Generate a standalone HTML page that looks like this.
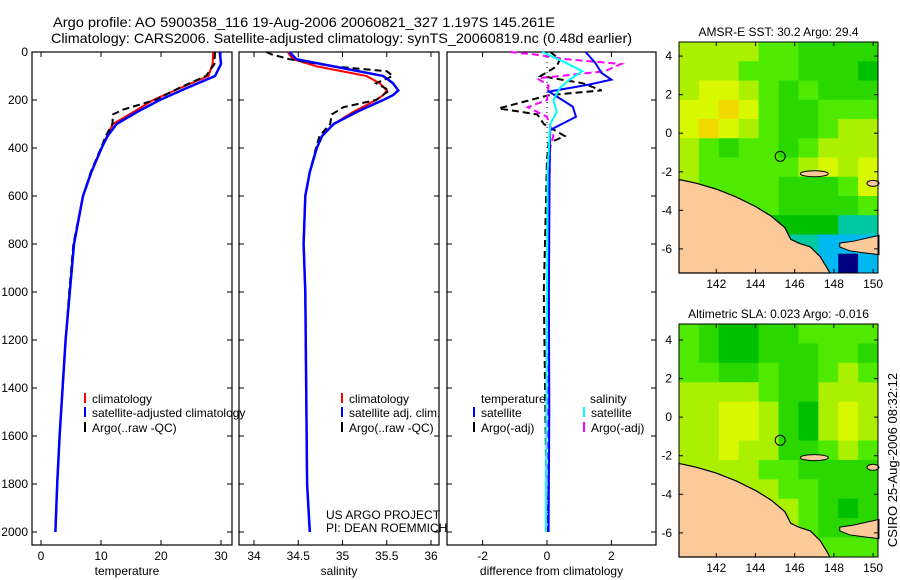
<!DOCTYPE html>
<html><head><meta charset="utf-8"><style>
body{margin:0;background:#fff;}
svg{display:block;font-family:"Liberation Sans",sans-serif;}
text{font-size:12px;fill:#000;}
</style></head><body>
<svg id="c" width="900" height="580" viewBox="0 0 900 580">
<text x="53" y="27" textLength="502" lengthAdjust="spacingAndGlyphs" style="font-size:14px">Argo profile: AO 5900358_116 19-Aug-2006 20060821_327 1.197S 145.261E</text>
<text x="51" y="43" textLength="581" lengthAdjust="spacingAndGlyphs" style="font-size:14px">Climatology: CARS2006. Satellite-adjusted climatology: synTS_20060819.nc (0.48d earlier)</text>
<text transform="translate(897,460) rotate(-90)" text-anchor="middle" style="font-size:13px">CSIRO 25-Aug-2006 08:32:12</text>
<text x="326" y="519">US ARGO PROJECT</text>
<text x="326" y="532">PI: DEAN ROEMMICH</text>
</svg>
<script>
// ---------- profile data ----------
const tDepth=[0,50,100,150,200,250,300,350,400,500,600,800,1000,1200,1400,1600,1800,2000];
const tempClim=[28.7,28.6,27.9,23.2,18.7,15.4,12.0,11.0,10.1,8.4,7.0,5.5,4.8,4.1,3.6,3.1,2.7,2.4];
const tempSat=[29.8,30.0,29.0,24.3,19.8,16.0,12.6,11.1,10.1,8.4,7.0,5.5,4.8,4.1,3.6,3.1,2.7,2.4];
const argoTDepth=[0,50,100,150,200,240,260,300,350,400,500,600,800,1000,1200,1400,1600,1800,2000];
const argoTemp=[29.0,28.9,27.5,23.0,19.0,13.7,12.0,11.9,10.8,10.0,8.3,7.0,5.4,4.7,4.1,3.6,3.1,2.7,2.4];

const sDepth=[0,30,60,100,130,160,180,200,250,300,350,400,500,600,800,1000,1400,1800,2000];
const salClim=[34.38,34.44,34.71,35.27,35.42,35.50,35.46,35.38,35.12,34.90,34.77,34.71,34.63,34.58,34.56,34.58,34.59,34.60,34.63];
const salSat=[34.40,34.48,34.90,35.46,35.57,35.63,35.57,35.46,35.16,34.90,34.77,34.71,34.63,34.58,34.56,34.58,34.59,34.60,34.63];
const argoSDepth=[0,10,30,60,80,100,130,160,200,230,260,300,350,400,500,600,800,1000,1400,1800,2000];
const argoSal=[34.14,34.20,34.40,34.90,35.50,35.57,35.38,35.53,35.38,35.01,34.88,34.86,34.74,34.70,34.63,34.58,34.56,34.58,34.59,34.60,34.63];

const dDepth=[0,46,88,115,136,165,228,270,304,325,500,1000,1500,2000];
const dTempSat=[1.2,1.5,1.7,2.0,1.3,0.06,0.8,0.9,0.4,0.1,0.08,0.06,0.07,0.05];
const dSalDepth=[0,46,80,115,150,200,250,300,500,1000,1500,2000];
const dSalSat=[-0.15,0.6,1.1,0.7,0.4,0.2,0.3,0.1,0.02,0.0,-0.02,-0.03];
const dArgoTDepth=[0,30,60,100,130,160,180,235,260,300,350,380,450,1000,2000];
const dArgoT=[0.1,0.4,0.3,-0.2,1.1,1.7,0.05,-1.5,-0.3,-0.1,0.55,0.05,0.0,-0.1,0.0];
const dArgoSDepth=[0,10,30,50,80,110,140,200,230,270,350,400,1000,2000];
const dArgoS=[-1.15,-0.4,0.6,2.3,1.8,-0.3,0.05,0.0,-0.6,0.0,0.2,0.1,0.0,0.05];

const depthTicks=[0,200,400,600,800,1000,1200,1400,1600,1800,2000];
const tempTicks=[0,10,20,30];
const salTicks=[34,34.5,35,35.5,36];
const diffTicks=[-2,0,2];

// ---------- map data (levels) ----------
const sstGrid=[
[6,6,6,6,5,5,4,4,4,4],[6,6,6,5,5,5,4,4,4,3],[6,7,7,6,5,4,5,4,4,4],[7,7,8,7,5,4,4,5,5,5],
[7,8,7,6,5,4,4,5,6,6],[6,5,4,5,5,4,5,6,6,6],[6,5,5,5,5,5,6,7,6,7],[6,5,5,5,5,4,4,4,5,7],
[6,6,6,5,5,4,4,4,4,5],[5,5,5,4,3,3,3,3,2,2],[4,4,3,3,2,2,2,1,1,1],[3,3,2,2,2,1,1,1,0,1]];
const slaGrid=[
[5,4,3,3,4,4,5,5,5,5],[5,4,3,3,4,4,4,5,5,4],[5,5,4,4,5,4,4,5,6,5],[6,6,6,6,5,4,4,6,6,6],
[6,6,7,7,6,4,3,6,7,6],[6,6,7,7,6,4,3,6,7,6],[6,6,7,6,6,4,4,5,6,5],[6,6,6,6,5,5,4,4,4,4],
[6,6,6,6,6,5,5,4,4,4],[6,6,6,6,6,6,5,4,3,4],[7,7,6,6,6,6,5,4,4,4],[7,7,7,7,6,6,6,5,5,5]];
const lonTicks=[142,144,146,148,150];
const latTicks=[4,2,0,-2,-4,-6];
const coastLon=[140.1,141,142,143,144,144.8,145.5,145.8,146.2,146.8,147.3,147.6,147.8,140.1];
const coastLat=[-2.4,-2.6,-2.9,-3.3,-3.8,-4.3,-4.9,-5.5,-5.7,-5.9,-6.4,-6.9,-7.25,-7.25];
const nbLon=[148.3,149,150.3,150.3,149.5,148.8,148.3];
const nbLat=[-5.7,-5.6,-5.3,-6.3,-6.2,-6.1,-5.9];
const argoLon=145.26, argoLat=-1.2;
</script>
<script>
const NS='http://www.w3.org/2000/svg';
const svg=document.getElementById('c');
function mk(tag,attrs,parent){const e=document.createElementNS(NS,tag);for(const k in attrs)e.setAttribute(k,attrs[k]);(parent||svg).appendChild(e);return e;}
const yD=d=>52+d*0.24;
const panels=[
 {x0:32,x1:232,sx:v=>41+v*6,ticks:tempTicks,label:'temperature',name:'temperature-panel'},
 {x0:239,x1:439,sx:v=>254+(v-34)*88.5,ticks:salTicks,label:'salinity',name:'salinity-panel'},
 {x0:447,x1:656,sx:v=>547+v*32.2,ticks:diffTicks,label:'difference from climatology',name:'difference-panel'}];
panels.forEach((p,i)=>{
 const g=mk('g',{});
 
 
 const r=mk('rect',{x:p.x0,y:52,width:p.x1-p.x0,height:493,fill:'none',stroke:'#000','stroke-width':1.2},g);
 
 
 p.ticks.forEach(v=>{const x=p.sx(v);
  mk('line',{x1:x,x2:x,y1:52,y2:57,stroke:'#000'},g);mk('line',{x1:x,x2:x,y1:545,y2:540,stroke:'#000'},g);
  const t=mk('text',{x:x,y:560,'text-anchor':'middle'},g);t.textContent=v;
  
  });
 depthTicks.forEach(d=>{const y=yD(d);
  mk('line',{x1:p.x0,x2:p.x0+5,y1:y,y2:y,stroke:'#000'},g);mk('line',{x1:p.x1,x2:p.x1-5,y1:y,y2:y,stroke:'#000'},g);
  if(i===0){const t=mk('text',{x:28,y:y+4,'text-anchor':'end'},g);t.textContent=d;
   
   }});
 const xl=mk('text',{x:(p.x0+p.x1)/2+(i==0?-5:0),y:575,'text-anchor':'middle'},g);xl.textContent=p.label;
 
 
});
function line(depths,vals,sx,color,dash,name,w){
 const pts=depths.map((d,i)=>sx(vals[i]).toFixed(1)+','+yD(d).toFixed(1)).join(' ');
 const e=mk('polyline',{points:pts,fill:'none',stroke:color,'stroke-width':w||2,'stroke-dasharray':dash||'none'});
 
 
}
const [P1,P2,P3]=panels;
line(tDepth,tempClim,P1.sx,'#f00',null,'temp-climatology-line');
line(argoTDepth,argoTemp,P1.sx,'#000','7,4','temp-argo-line');
line(tDepth,tempSat,P1.sx,'#00f',null,'temp-satellite-line',2.5);
line(sDepth,salClim,P2.sx,'#f00',null,'sal-climatology-line');
line(argoSDepth,argoSal,P2.sx,'#000','7,4','sal-argo-line');
line(sDepth,salSat,P2.sx,'#00f',null,'sal-satellite-line',2.5);
const zl=mk('line',{x1:P3.sx(0),x2:P3.sx(0),y1:yD(0),y2:yD(2000),stroke:'#000','stroke-dasharray':'1,4'});


line(dArgoTDepth,dArgoT,P3.sx,'#000','7,4','diff-argo-temp-line');
line(dArgoSDepth,dArgoS,P3.sx,'#f0f','7,4','diff-argo-sal-line');
line(dDepth,dTempSat,P3.sx,'#00f',null,'diff-temp-satellite-line');
line(dSalDepth,dSalSat,P3.sx,'#0ff',null,'diff-sal-satellite-line');
// legends
function leg(x,y,color,label){const g=mk('g',{});
 
 
 if(color)mk('line',{x1:x,x2:x,y1:y-10,y2:y,stroke:color,'stroke-width':2},g);
 const t=mk('text',{x:x+(color?7:0),y:y},g);t.textContent=label;}
leg(85,403,'#f00','climatology');leg(85,417,'#00f','satellite-adjusted climatology');leg(85,432,'#000','Argo(..raw -QC)');
leg(342,403,'#f00','climatology');leg(342,417,'#00f','satellite adj. clim.');leg(342,432,'#000','Argo(..raw -QC)');
leg(481,403,null,'temperature');leg(474,417,'#00f','satellite');leg(474,432,'#000','Argo(-adj)');
leg(590,403,null,'salinity');leg(584,417,'#0ff','satellite');leg(584,432,'#f0f','Argo(-adj)');
// maps
const pal=['#000080','#00b8f0','#00c8a0','#00c000','#2ad800','#50ea00','#aaf000','#d8f800','#f0d800'];
function map(top,bot,latTop,grid,title,name){
 const x0=679,x1=878,lon0=140.1,lon1=150.25,latBot=-7.25;
 const mx=l=>x0+(l-lon0)/(lon1-lon0)*(x1-x0), my=l=>top+(latTop-l)/(latTop-latBot)*(bot-top);
 const g=mk('g',{});
 
 
 const rows=grid.length,cols=grid[0].length,cw=(x1-x0)/cols,ch=(bot-top)/rows;
 grid.forEach((row,r)=>row.forEach((v,c)=>{const e=mk('rect',{x:x0+c*cw,y:top+r*ch,width:cw+0.5,height:ch+0.5,fill:pal[v]},g);
  
  }));
 const land=mk('polygon',{points:coastLon.map((l,i)=>mx(l)+','+my(coastLat[i])).join(' '),fill:'#fcc998',stroke:'#000','stroke-width':1.2},g);
 
 
 const nb=mk('polygon',{points:nbLon.map((l,i)=>mx(l)+','+my(nbLat[i])).join(' '),fill:'#fcc998',stroke:'#000'},g);
 
 
 mk('ellipse',{cx:mx(147),cy:my(-2.1),rx:14,ry:3,fill:'#fcc998',stroke:'#000'},g);
 mk('ellipse',{cx:x1-5,cy:my(-2.6),rx:6,ry:3,fill:'#fcc998',stroke:'#000'},g);
 const c=mk('circle',{cx:mx(argoLon),cy:my(argoLat),r:5,fill:'none',stroke:'#000'},g);
 
 
 mk('rect',{x:x0,y:top,width:x1-x0,height:bot-top,fill:'none',stroke:'#000'},g);
 lonTicks.forEach(l=>{const x=mx(l);mk('line',{x1:x,x2:x,y1:bot,y2:bot-4,stroke:'#000'},g);mk('line',{x1:x,x2:x,y1:top,y2:top+4,stroke:'#000'},g);
  const t=mk('text',{x:x,y:bot+15,'text-anchor':'middle'},g);t.textContent=l;
  
  });
 latTicks.forEach(l=>{const y=my(l);mk('line',{x1:x0,x2:x0+4,y1:y,y2:y,stroke:'#000'},g);mk('line',{x1:x1,x2:x1-4,y1:y,y2:y,stroke:'#000'},g);
  const t=mk('text',{x:x0-7,y:y+4,'text-anchor':'end'},g);t.textContent=l;
  
  });
 const tt=mk('text',{x:(x0+x1)/2,y:top-6,'text-anchor':'middle'},g);tt.textContent=title;
 
 
}
map(42,273,4.73,sstGrid,'AMSR-E SST: 30.2 Argo: 29.4','sst-map');
map(324,557,4.83,slaGrid,'Altimetric SLA: 0.023 Argo: -0.016','sla-map');
</script>
</body></html>
